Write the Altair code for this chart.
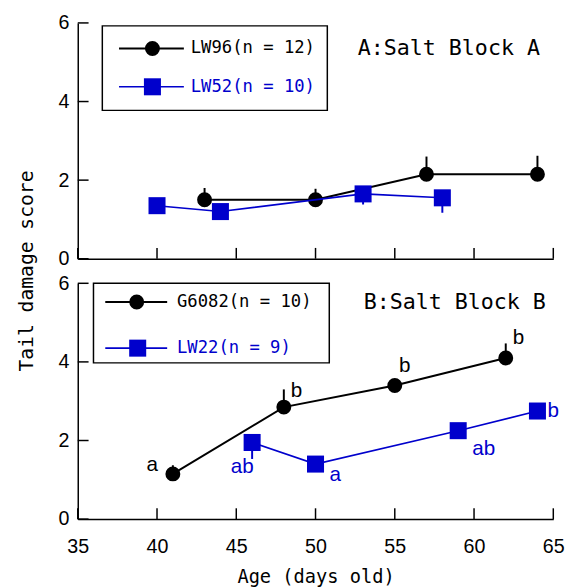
import altair as alt
import pandas as pd

# ---------------- data ----------------
x_ticks = [35, 40, 45, 50, 55, 60, 65]
y_ticks = [0, 2, 4, 6]

# Panel A: Salt Block A
a_lw96_age = [43, 50, 57, 64]
a_lw96_score = [1.5, 1.5, 2.15, 2.15]
a_lw96_err = [0.3, 0.28, 0.45, 0.47]
a_lw52_age = [40, 44, 53, 58]
a_lw52_score = [1.35, 1.2, 1.65, 1.55]
a_lw52_err = [0.1, 0.1, 0.27, 0.38]

# Panel B: Salt Block B
b_g6082_age = [41, 48, 55, 62]
b_g6082_score = [1.15, 2.85, 3.4, 4.1]
b_g6082_err = [0.22, 0.45, 0.1, 0.37]
b_g6082_sig = ["a", "b", "b", "b"]
b_lw22_age = [46, 50, 59, 64]
b_lw22_score = [1.95, 1.4, 2.25, 2.75]
b_lw22_err = [0.42, 0.1, 0.1, 0.1]
b_lw22_sig = ["ab", "a", "ab", "b"]

# label offsets (style)
b_g6082_off = [(-21, -9), (13, -16), (10, -20), (13, -20)]
b_lw22_off = [(-10, 25), (20, 11), (26, 19), (16, 0)]

BLUE = "#0000CC"
BLACK = "#000000"
MONO = "DejaVu Sans Mono"
SANS = "Liberation Sans"
W, H = 484, 240


def series_df(age, score, err, direction):
    return pd.DataFrame({
        "age": age,
        "score": score,
        "end": [s + direction * e for s, e in zip(score, err)],
    })


def one_row():
    return alt.Data(values=[{"k": 0}])


def panel(series, legend, title_text, title_pos, box, show_x_labels, y_title):
    X = alt.X(
        "age:Q",
        scale=alt.Scale(domain=[35, 65], nice=False, zero=False),
        axis=alt.Axis(
            values=x_ticks, ticks=False, grid=False, domainColor="black",
            domainWidth=1.5, labels=show_x_labels, labelFont=SANS,
            labelFontSize=20, labelColor="black", labelPadding=18,
            labelFlush=False,
            title="Age (days old)" if show_x_labels else None,
            titleFont=MONO, titleFontSize=19, titleFontWeight="normal",
            titleColor="black", titlePadding=12,
        ),
    )
    yaxis_kwargs = dict(
        values=y_ticks, ticks=False, grid=False, domainColor="black",
        domainWidth=1.5, labelFont=SANS, labelFontSize=20, labelColor="black",
        labelPadding=9, labelFlush=False,
    )
    if y_title:
        yaxis_kwargs.update(
            title="Tail damage score", titleFont=MONO, titleFontSize=20,
            titleFontWeight="normal", titleColor="black", titlePadding=22,
            titleY=H + 12,
        )
    else:
        yaxis_kwargs.update(title=None)
    Y = alt.Y("score:Q", scale=alt.Scale(domain=[0, 6], nice=False),
              axis=alt.Axis(**yaxis_kwargs))

    layers = []
    # inner ticks
    tx = pd.DataFrame({"age": x_ticks})
    ty = pd.DataFrame({"score": y_ticks})
    layers.append(alt.Chart(tx).mark_rule(color="black", strokeWidth=1.5).encode(
        x=X, y=alt.value(H), y2=alt.value(H - 11)))
    layers.append(alt.Chart(ty).mark_rule(color="black", strokeWidth=1.5).encode(
        y=Y, x=alt.value(0), x2=alt.value(11)))

    for df, color, shape, size, sw in series:
        base = alt.Chart(df)
        layers.append(base.mark_line(color=color, strokeWidth=sw).encode(x=X, y=Y))
        layers.append(base.mark_rule(color=color, strokeWidth=2).encode(
            x=X, y=Y, y2="end:Q"))
        layers.append(base.mark_point(filled=True, opacity=1, color=color,
                                      shape=shape, size=size).encode(x=X, y=Y))

    # legend box
    x0, x1, y0, y1 = box
    layers.append(alt.Chart(one_row()).mark_rect(
        fillOpacity=0, stroke="black", strokeWidth=1.5).encode(
        x=alt.value(x0), x2=alt.value(x1), y=alt.value(y0), y2=alt.value(y1)))
    for (label, color, shape, size, sw, lx0, lx1, px, tx0, ly) in legend:
        layers.append(alt.Chart(one_row()).mark_rule(color=color, strokeWidth=sw).encode(
            x=alt.value(lx0), x2=alt.value(lx1), y=alt.value(ly)))
        layers.append(alt.Chart(one_row()).mark_point(
            filled=True, opacity=1, color=color, shape=shape, size=size).encode(
            x=alt.value(px), y=alt.value(ly)))
        layers.append(alt.Chart(one_row()).mark_text(
            align="left", baseline="middle", font=MONO, fontSize=17.5,
            color=color).encode(
            x=alt.value(tx0), y=alt.value(ly), text=alt.value(label)))
    layers.append(alt.Chart(one_row()).mark_text(
        align="left", baseline="middle", font=MONO, fontSize=22,
        color="black").encode(
        x=alt.value(title_pos[0]), y=alt.value(title_pos[1]),
        text=alt.value(title_text)))
    return layers, X, Y


# ---- panel A ----
a_series = [
    (series_df(a_lw96_age, a_lw96_score, a_lw96_err, 1), BLACK, "circle", 230, 2),
    (series_df(a_lw52_age, a_lw52_score, a_lw52_err, -1), BLUE, "square", 300, 1.6),
]
a_legend = [
    ("LW96(n = 12)", BLACK, "circle", 230, 2, 42, 108, 76, 115, 26),
    ("LW52(n = 10)", BLUE, "square", 300, 1.6, 42, 108, 76, 115, 65),
]
a_layers, _, _ = panel(a_series, a_legend, "A:Salt Block A", (285, 26),
                       (25, 254, 3, 89), False, True)
chart_a = alt.layer(*a_layers).properties(width=W, height=H)

# ---- panel B ----
g_df = series_df(b_g6082_age, b_g6082_score, b_g6082_err, 1)
l_df = series_df(b_lw22_age, b_lw22_score, b_lw22_err, -1)
b_series = [
    (g_df, BLACK, "circle", 230, 2),
    (l_df, BLUE, "square", 300, 1.6),
]
b_legend = [
    ("G6082(n = 10)", BLACK, "circle", 230, 2, 28, 91, 60, 101, 19),
    ("LW22(n = 9)", BLUE, "square", 300, 1.6, 28, 91, 61, 101, 66),
]
b_layers, Xb, Yb = panel(b_series, b_legend, "B:Salt Block B", (291, 19),
                         (16, 256, 0, 81), True, False)

for df, sig, offs, color in [(g_df, b_g6082_sig, b_g6082_off, BLACK),
                             (l_df, b_lw22_sig, b_lw22_off, BLUE)]:
    for i in range(len(sig)):
        row = df.iloc[[i]].assign(sig=sig[i])
        b_layers.append(alt.Chart(row).mark_text(
            font=SANS, fontSize=21, color=color, align="center",
            baseline="middle", dx=offs[i][0], dy=offs[i][1]).encode(
            x=Xb, y=Yb, text="sig:N"))

chart_b = alt.layer(*b_layers).properties(width=W, height=H)

chart = alt.vconcat(chart_a, chart_b, spacing=25, bounds="flush").properties(
    padding={"left": 8, "top": 0, "right": 5, "bottom": 0}
).configure_view(stroke=None)

chart.save("out.html", embed_options={"renderer": "svg", "actions": False})
